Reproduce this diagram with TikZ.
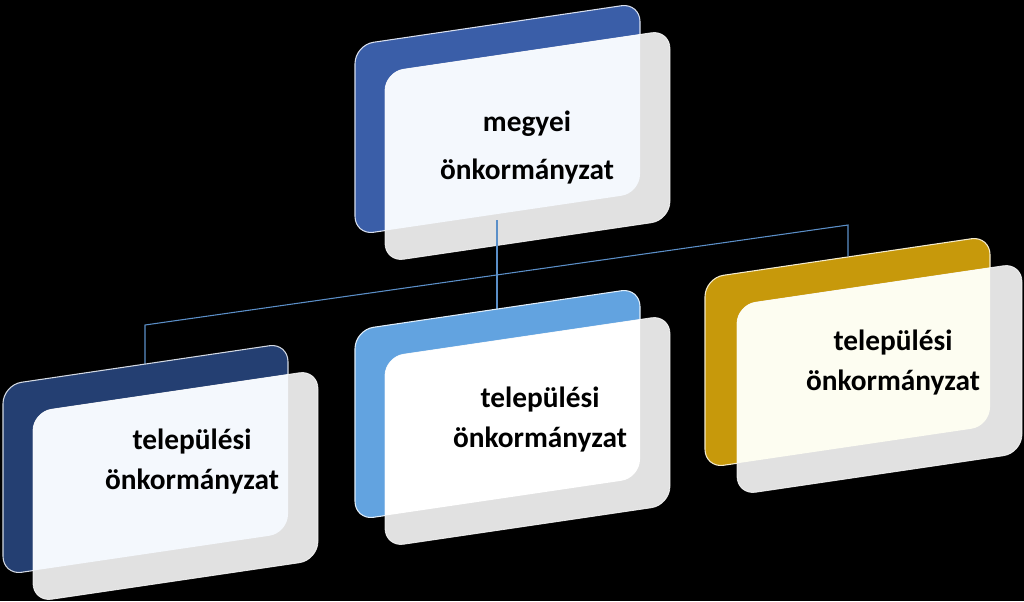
\documentclass[tikz,border=0pt]{standalone}
\usepackage{fontspec}
\setmainfont{Carlito}
\definecolor{cTop}{HTML}{3A5EA8}
\definecolor{cLeft}{HTML}{243F72}
\definecolor{cMid}{HTML}{62A3E0}
\definecolor{cGold}{HTML}{C7990B}
\definecolor{cLine}{HTML}{5B8FC8}
\definecolor{cPale}{HTML}{F4F8FD}
\definecolor{cCream}{HTML}{FDFDF1}
\definecolor{cGrey}{HTML}{E1E1E1}
\begin{document}
\begin{tikzpicture}[x=0.75pt,y=-0.75pt,
  lbl/.style={font=\bfseries\fontsize{22}{30}\selectfont,align=center,text=black},
  conn/.style={draw=cLine,line width=0.8pt}]
\fill[black] (0,0) rectangle (1024,601);
\useasboundingbox (0,0) rectangle (1024,601);
\newcommand\pairbox[5]{% x, yL, back colour, light colour, dx
  \def\bk{(#1,#2) -- (#1+285,#2-42) -- (#1+285,#2+148) -- (#1,#2+190) -- cycle}
  \def\fr{(#1+#5,#2+27) -- (#1+#5+285,#2-15) -- (#1+#5+285,#2+175) -- (#1+#5,#2+217) -- cycle}
  \fill[#3,rounded corners=14pt,draw=white!80!#3,line width=0.8pt] \bk;
  \fill[cGrey,rounded corners=14pt] \fr;
  \begin{scope}
    \clip[rounded corners=14pt] \bk;
    \fill[#4,rounded corners=14pt] \fr;
  \end{scope}
  \draw[white,rounded corners=14pt,line width=0.6pt,opacity=0.8] \fr;
}
\pairbox{355}{45}{cTop}{cPale}{30}
\node[lbl] (top) at (527,148) {megyei\\[6pt]önkormányzat};
\coordinate (tb) at (497,220);
\coordinate (lj) at (145,325);
\coordinate (rj) at (848,225);
\coordinate (lb) at (145,364);
\coordinate (mb) at (497,309);
\coordinate (rb) at (848,256);
\draw[conn] (tb) -- (mb);
\draw[conn] (lb) -- (lj) -- (rj) -- (rb);
\pairbox{3}{385}{cLeft}{cPale}{30}
\node[lbl] (left) at (192,462) {települési\\önkormányzat};
\pairbox{355}{330}{cMid}{white}{30}
\node[lbl] (mid) at (540,420) {települési\\önkormányzat};
\pairbox{705}{278}{cGold}{cCream}{32}
\node[lbl] (right) at (893,363) {települési\\önkormányzat};
\end{tikzpicture}
\end{document}
